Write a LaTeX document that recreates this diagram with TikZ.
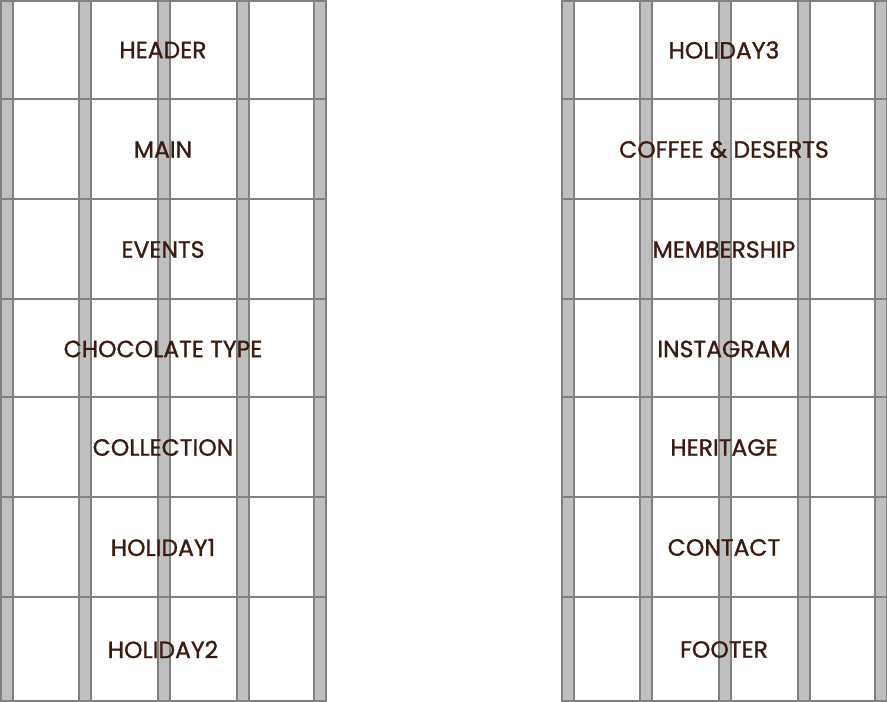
\documentclass[tikz,border=0pt]{standalone}
\usepackage{fontspec}
\setmainfont{Poppins}
\newfontfamily\gridfont{Poppins}[FakeBold=1.1]
\definecolor{stripefill}{HTML}{BFBFBF}
\definecolor{gridline}{HTML}{808080}
\definecolor{cocoa}{HTML}{3D1A10}
\tikzset{
  stripe/.style={fill=stripefill,draw=gridline,line width=2pt},
  rowline/.style={draw=gridline,line width=2pt},
  section/.style={text=cocoa,font=\gridfont\fontsize{23.5}{28}\selectfont,inner sep=0pt}
}
\begin{document}
\begin{tikzpicture}[x=1pt,y=-1pt]
\useasboundingbox (0,0) rectangle (887,702);
% two page columns of the layout grid
\foreach \ox in {0,561}{
  \foreach \s in {0,78,157,236,313}
    \filldraw[stripe] (\ox+\s+1,0) rectangle (\ox+\s+13,702);
  \foreach \r in {1,99,198.5,298.5,397,497,597,701}
    \draw[rowline] (\ox,\r) -- (\ox+327,\r);
}
% left column
\node[section] (header)     at (163,50)    {HEADER};
\node[section] (main)       at (163,149.5) {MAIN};
\node[section] (events)     at (163,249.5) {EVENTS};
\node[section] (chocolate)  at (163,349)   {CHOCOLATE TYPE};
\node[section] (collection) at (163,447.5) {COLLECTION};
\node[section] (holidayA)   at (163,547.5) {HOLIDAY1};
\node[section] (holidayB)   at (163,649.5) {HOLIDAY2};
% right column
\node[section] (holidayC)   at (724,50)    {HOLIDAY3};
\node[section] (coffee)     at (724,149.5) {COFFEE \& DESERTS};
\node[section] (member)     at (724,249.5) {MEMBERSHIP};
\node[section] (instagram)  at (724,349)   {INSTAGRAM};
\node[section] (heritage)   at (724,447.5) {HERITAGE};
\node[section] (contact)    at (724,547.5) {CONTACT};
\node[section] (footer)     at (724,649.5) {FOOTER};
\end{tikzpicture}
\end{document}
